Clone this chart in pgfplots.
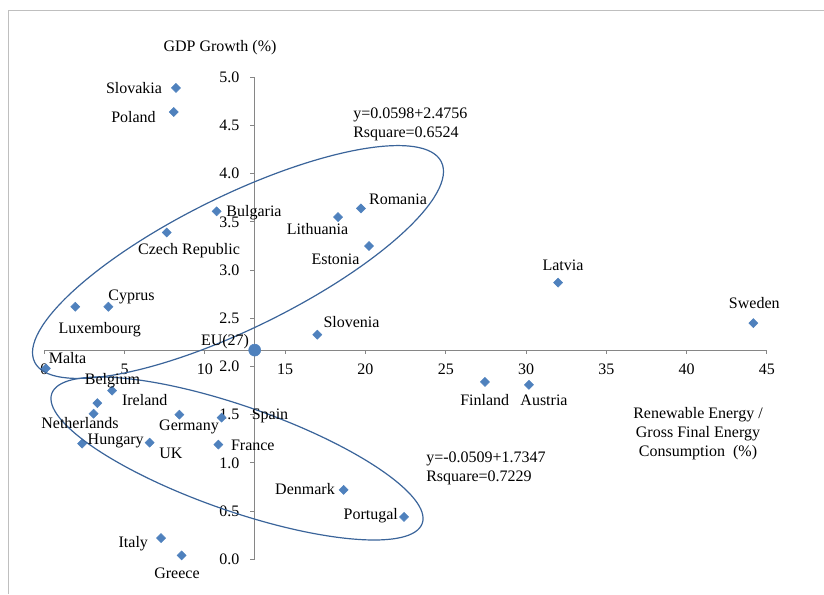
\documentclass[border=0pt]{standalone}
\usepackage{fontspec}
\setmainfont{Liberation Serif}
\usepackage{pgfplots}
\pgfplotsset{compat=1.18}
\definecolor{mk}{HTML}{4F81BD}
\definecolor{ell}{HTML}{3A649A}
\definecolor{axc}{HTML}{868686}
\definecolor{frm}{HTML}{BFBFBF}
\begin{document}
\begin{tikzpicture}[font=\fontsize{12pt}{14.25pt}\selectfont]
\begin{axis}[scale only axis, width=542pt, height=361.5pt,
  xmin=0, xmax=45, ymin=0, ymax=5, hide axis, clip=false]
% axes crossing at EU(27)
\draw[axc, line width=0.75pt] (axis cs:0,2.17) -- (axis cs:45,2.17);
\draw[axc, line width=0.75pt] (axis cs:13.1,0) -- (axis cs:13.1,5);
\pgfplotsinvokeforeach{0,5,10,15,20,25,30,35,40,45}{
  \draw[axc, line width=0.75pt] (axis cs:#1,2.17) -- ++(0,-3pt);
  \node[inner sep=0, yshift=-14.25pt] at (axis cs:#1,2.17) {#1};
}
\pgfplotsinvokeforeach{0.0,0.5,1.0,1.5,2.0,2.5,3.0,3.5,4.0,4.5,5.0}{
  \draw[axc, line width=0.75pt] (axis cs:13.1,#1) -- ++(-3.5pt,0);
  \node[inner sep=0, anchor=east, xshift=-11.25pt] at (axis cs:13.1,#1) {#1};
}
\addplot[only marks, mark=square*, mark size=2.4pt,
  mark options={rotate=45, fill=mk, draw=mk}] coordinates {
  (8.20,4.89) % Slovakia
  (8.06,4.64) % Poland
  (10.73,3.61) % Bulgaria
  (7.62,3.39) % Czech Republic
  (18.29,3.55) % Lithuania
  (19.72,3.64) % Romania
  (20.22,3.25) % Estonia
  (31.99,2.87) % Latvia
  (44.15,2.45) % Sweden
  (3.99,2.62) % Cyprus
  (1.93,2.62) % Luxembourg
  (17.00,2.33) % Slovenia
  (0.10,1.98) % Malta
  (4.22,1.75) % Belgium
  (3.30,1.62) % Ireland
  (3.07,1.51) % Netherlands
  (8.41,1.50) % Germany
  (11.04,1.47) % Spain
  (2.35,1.20) % Hungary
  (6.56,1.21) % UK
  (10.84,1.19) % France
  (18.64,0.72) % Denmark
  (22.40,0.44) % Portugal
  (7.27,0.22) % Italy
  (8.55,0.04) % Greece
  (27.44,1.84) % Finland
  (30.18,1.81) % Austria
};
\addplot[only marks, mark=*, mark size=4.5pt,
  mark options={fill=mk, draw=mk}] coordinates {(13.1,2.17)}; % EU(27)
\end{axis}
\begin{scope}[x=0.75pt, y=-0.75pt, shift={(-33.225pt,419.475pt)}]
\draw[frm, line width=0.75pt] (9,594) -- (9,11) -- (824,11);
\draw[ell, line width=0.9pt, rotate around={26.2:(238,262)}] (238,262) ellipse [x radius=170pt, y radius=49.7pt];
\draw[ell, line width=0.9pt, rotate around={-19.3:(237,458.5)}] (237,458.5) ellipse [x radius=147.2pt, y radius=39.2pt];
\node at (220,48) {GDP Growth (\%)};
\node at (134,88) {Slovakia};
\node at (133.5,116.7) {Poland};
\node[anchor=west, inner sep=0] at (353,115) {y=0.0598+2.4756};
\node[anchor=west, inner sep=0] at (353,134) {Rsquare=0.6524};
\node at (254,212.7) {Bulgaria};
\node at (317.5,229) {Lithuania};
\node at (398,199) {Romania};
\node at (189,250.7) {Czech Republic};
\node at (335.5,259.3) {Estonia};
\node at (563,265) {Latvia};
\node at (754.3,302.7) {Sweden};
\node at (131.5,296.7) {Cyprus};
\node at (99.7,329.3) {Luxembourg};
\node at (351.5,322.3) {Slovenia};
\node at (225,341.7) {EU(27)};
\node at (67.5,358.3) {Malta};
\node at (112.5,380.7) {Belgium};
\node at (144.7,400) {Ireland};
\node at (80,422.7) {Netherlands};
\node at (189,426.7) {Germany};
\node at (270,416) {Spain};
\node at (115.7,441) {Hungary};
\node at (171,453.3) {UK};
\node at (252.8,445.7) {France};
\node at (305,489.3) {Denmark};
\node at (370.8,516) {Portugal};
\node at (133.3,544) {Italy};
\node at (177,573.3) {Greece};
\node at (484.7,400) {Finland};
\node at (544,400.7) {Austria};
\node[anchor=west, inner sep=0] at (426,459) {y=-0.0509+1.7347};
\node[anchor=west, inner sep=0] at (426,477.7) {Rsquare=0.7229};
\node[align=center, inner sep=0] at (698,433.3) {Renewable Energy /\\Gross Final Energy\\Consumption\ \ (\%)};
\pgfresetboundingbox
\useasboundingbox (0,0) rectangle (824,594);
\end{scope}
\end{tikzpicture}
\end{document}
